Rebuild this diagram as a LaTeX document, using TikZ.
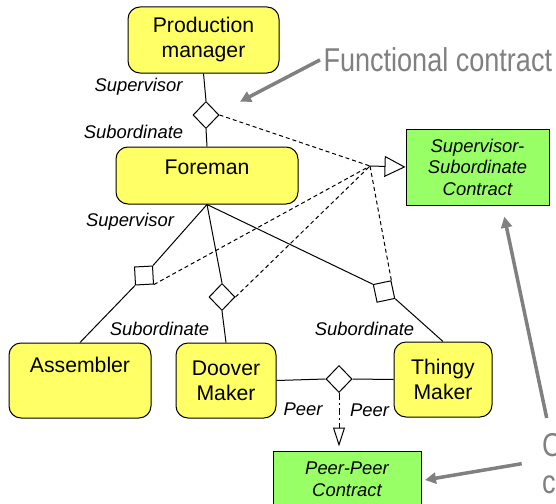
\documentclass[tikz,border=0pt]{standalone}
\usepackage{fontspec}
\setmainfont{Liberation Sans}
\newfontfamily\narrowsans[FakeStretch=0.82]{Liberation Sans}
\usetikzlibrary{positioning,arrows.meta,shapes.geometric}
\definecolor{actoryellow}{RGB}{255,255,102}
\definecolor{contractgreen}{RGB}{153,255,102}
\definecolor{notegrey}{RGB}{128,128,128}
\tikzset{
	>={Triangle[open, length=21pt, width=21pt]}
}

\begin{document}
\begin{tikzpicture}[
x = 1pt, y = -1pt,
line width = 1pt,
every node/.style = {
	font = \fontsize{21.2}{25}\selectfont
},
actor/.style = {
	draw,
	fill = actoryellow,
	rounded corners = 12pt,
	align = center,
	inner sep = 0pt
},
contract/.style = {
	draw,
	fill = contractgreen,
	align = center,
	inner sep = 0pt,
	font = \fontsize{18.4}{21.5}\selectfont\itshape
},
role/.style = {
	anchor = base,
	inner sep = 0pt,
	font = \fontsize{18.4}{21}\selectfont\itshape
},
relation/.style = {
	draw,
	fill = white,
	diamond,
	inner sep = 0pt,
	minimum width = 26pt,
	minimum height = 27pt
},
binding/.style = {
	draw,
	fill = white,
	inner sep = 0pt,
	minimum size = 18pt
},
contractlink/.style = {
	dash pattern = on 4pt off 3pt
},
note/.style = {
	text = notegrey,
	inner sep = 0pt,
	font = \narrowsans\fontsize{33}{37}\selectfont
},
pointer/.style = {
	draw = notegrey,
	line width = 3.5pt,
	-{Triangle[length=11pt, width=11pt]}
}
]
\useasboundingbox (0,0) rectangle (556,503);

% people
\node (pm) [actor, minimum width=151pt, minimum height=66pt] at (203.5,40) {Production\\ manager};
\node (foreman) [actor, minimum width=182pt, text height=27.5pt, text depth=29.5pt] at (207,175.5) {Foreman};
\node (assembler) [actor, minimum width=142pt, text height=29.5pt, text depth=45.5pt] at (80,380.5) {Assembler};
\node (doover) [actor, minimum width=100pt, minimum height=75pt] at (226,380.5) {Doover\\ Maker};
\node (thingy) [actor, minimum width=98pt, minimum height=75pt] at (443,379.5) {Thingy\\ Maker};

% contracts
\node (sscontract) [contract, minimum width=143pt, minimum height=76pt] at (477.5,167) {Supervisor-\\ Subordinate\\ Contract};
\node (ppcontract) [contract, minimum width=148pt, minimum height=57pt] at (347,479.5) {Peer-Peer\\ Contract};

% relations
\node (pmrel) [relation] at (206,115) {};
\node (dooverrel) [relation] at (222,297) {};
\node (peerrel) [relation] at (339,379) {};
\node (asmbind) [binding, rotate=3] at (144,275.5) {};
\node (thingybind) [binding, rotate=12] at (384,291.5) {};
\coordinate (hub) at (370,166);

\draw (pm.south) -- (pmrel.north);
\draw (pmrel.south) -- (foreman.north);
\draw (foreman.south) -- (asmbind.north east);
\draw (asmbind.south west) -- (assembler.north);
\draw (foreman.south) -- (dooverrel.north);
\draw (dooverrel.south) -- (doover.north);
\draw (foreman.south) -- (thingybind.north west);
\draw (thingybind.south east) -- (thingy.north);
\draw (doover.east) -- (peerrel.west);
\draw (peerrel.east) -- (thingy.west);

\draw [contractlink] (pmrel.east) -- (hub);
\draw [contractlink] (asmbind.south east) -- (hub);
\draw [contractlink] (dooverrel.east) -- (hub);
\draw [contractlink] (thingybind.north east) -- (hub);
\draw [->] (hub) -- (sscontract.west);
\draw [dash pattern=on 7pt off 3pt on 2pt off 3pt, -{Triangle[open, length=19pt, width=12pt]}, shorten >=4pt] (peerrel.south) -- (peerrel.south |- ppcontract.north);

% roles
\node (pmsup) [role] at (138.5,91.7) {Supervisor};
\node (foremansub) [role] at (133.5,138.3) {Subordinate};
\node (foremansup) [role] at (130,226.7) {Supervisor};
\node (dooversub) [role] at (159.5,335) {Subordinate};
\node (thingysub) [role] at (364.5,335) {Subordinate};
\node (dooverpeer) [role] at (303,415) {Peer};
\node (thingypeer) [role] at (369.5,416.7) {Peer};

% notes
\node (funcnote) [note, anchor=base west] at (323,71.7) {Functional contract};
\node (contractnote) [note, align=left, anchor=north west] at (541.7,433) {C\\ c};
\coordinate (functip) at (240,101.7);
\coordinate (sstip) at (504.3,216.7);
\coordinate (pptip) at (425,480);
\draw [pointer] ([xshift=-3pt]funcnote.west) -- (functip);
\draw [pointer] ([xshift=5pt, yshift=15pt]contractnote.north west) -- (sstip);
\draw [pointer] ([xshift=-20pt]contractnote.west) -- (pptip);
\end{tikzpicture}
\end{document}
